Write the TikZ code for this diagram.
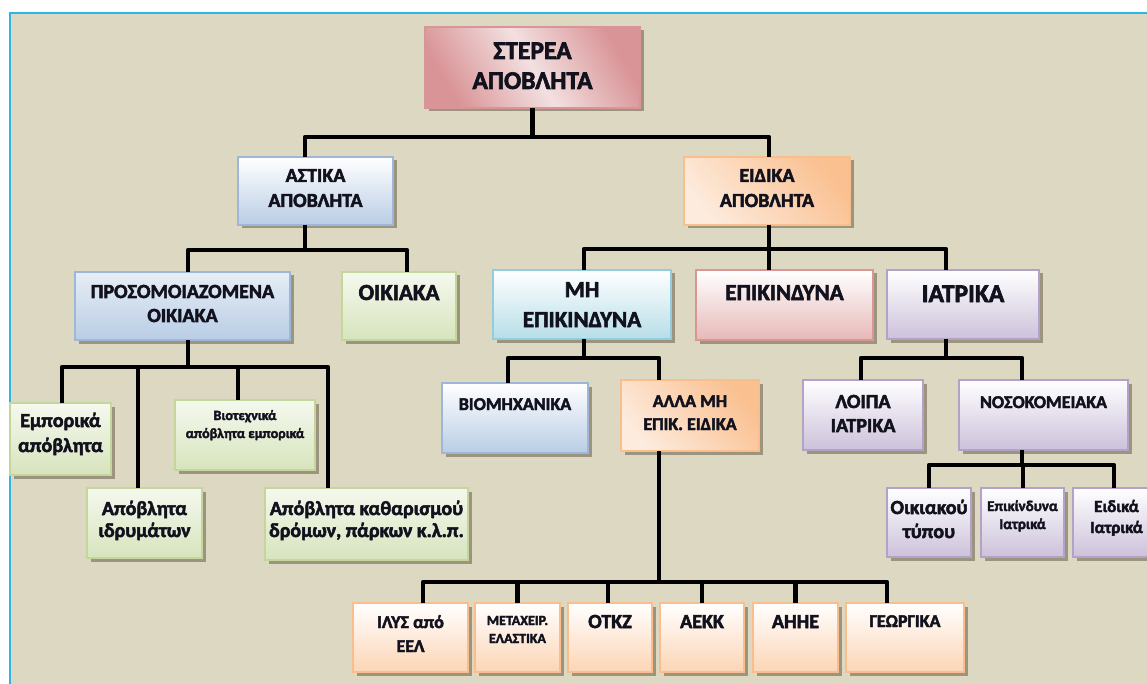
\documentclass[tikz,border=0pt]{standalone}
\usepackage{fontspec}
\setmainfont{Carlito}[BoldFont={Carlito Bold}, BoldFeatures={FakeBold=2.5}]
\usetikzlibrary{shadows}
\definecolor{panel}{HTML}{DDD8C2}
\definecolor{frameblue}{HTML}{2DB5E8}
\definecolor{shad}{HTML}{9C947E}
\definecolor{txt}{HTML}{12121E}
\definecolor{pinkD}{HTML}{D99497}
\definecolor{pinkL}{HTML}{F3E0E0}
\definecolor{blueB}{HTML}{B9CDE5}
\definecolor{blueE}{HTML}{9DB7D9}
\definecolor{greenB}{HTML}{D7E4BD}
\definecolor{greenE}{HTML}{C3D69B}
\definecolor{orD}{HTML}{FAC090}
\definecolor{orL}{HTML}{FDEBDD}
\definecolor{orB}{HTML}{FCD5B5}
\definecolor{orE}{HTML}{F9BE8C}
\definecolor{cyanB}{HTML}{B7DEE8}
\definecolor{cyanE}{HTML}{93CDDD}
\definecolor{redB}{HTML}{E6B9B8}
\definecolor{redE}{HTML}{D99694}
\definecolor{purB}{HTML}{CCC1DA}
\definecolor{purE}{HTML}{B3A2C7}
\newcommand\fsz[2]{\bfseries\fontsize{#1}{#2}\selectfont}
\newcommand\bx[8]{%
  \pgfmathsetlengthmacro\bxw{#4-#2}%
  \pgfmathsetlengthmacro\bxh{#5-#3}%
  \node[box, #6, minimum width=\bxw, minimum height=\bxh] (#1) at (#2,#3)
    {\parbox[t][\bxh][t]{\bxw}{\centering\rule{0pt}{#7pt}#8}};%
}
\tikzset{
  box/.style={rectangle, draw, line width=1.3pt, inner sep=0pt, outer sep=0pt,
    anchor=north west, text=txt,
    drop shadow={shadow xshift=3.5pt, shadow yshift=-3.5pt, fill=shad, opacity=1}},
  conn/.style={line width=4.3pt, draw=black, line join=round},
  pinkbox/.style={draw=pinkD, top color=pinkD, bottom color=pinkD, middle color=pinkL, shading angle=-60},
  bluebox/.style={draw=blueE, top color=white, bottom color=blueB},
  blue2box/.style={draw=blueE, top color=blueB!35, bottom color=blueB},
  greenbox/.style={draw=greenE, top color=greenB!25, bottom color=greenB},
  orbox/.style={draw=orE, top color=orD, bottom color=orL, shading angle=-50},
  or2box/.style={draw=orE, top color=white, bottom color=orB},
  cyanbox/.style={draw=cyanE, top color=white, bottom color=cyanB},
  redbox/.style={draw=redE, top color=white, bottom color=redB},
  purbox/.style={draw=purE, top color=white, bottom color=purB},
}
\begin{document}
\begin{tikzpicture}[x=1pt, y=-1pt]
\useasboundingbox (0,0) rectangle (1147,684);
\fill[white] (0,0) rectangle (1147,684);
\fill[panel] (10,13) rectangle (1147,684);
\draw[frameblue, line width=1.6pt] (10,684) -- (10,13) -- (1147,13);

% boxes
\bx{st}{425}{27}{640}{108}{pinkbox, font=\fsz{25.5}{30}}{32}{ΣΤΕΡΕΑ\\ΑΠΟΒΛΗΤΑ}
\bx{as}{238}{157}{393}{225}{bluebox, font=\fsz{20}{25}}{25}{ΑΣΤΙΚΑ\\ΑΠΟΒΛΗΤΑ}
\bx{ei}{684}{157}{850}{225}{orbox, font=\fsz{20}{25}}{25}{ΕΙΔΙΚΑ\\ΑΠΟΒΛΗΤΑ}
\bx{pr}{75}{272}{290}{340}{blue2box, font=\fsz{20}{24}}{26}{ΠΡΟΣΟΜΟΙΑΖΟΜΕΝΑ\\ΟΙΚΙΑΚΑ}
\bx{oi}{342}{272}{456}{340}{greenbox, font=\fsz{23}{28}}{28}{ΟΙΚΙΑΚΑ}
\bx{mh}{493}{270}{671}{339}{cyanbox, font=\fsz{23}{30}}{27}{ΜΗ\\ΕΠΙΚΙΝΔΥΝΑ}
\bx{ep}{696}{270}{873}{340}{redbox, font=\fsz{23}{30}}{30}{ΕΠΙΚΙΝΔΥΝΑ}
\bx{ia}{887}{270}{1039}{339}{purbox, font=\fsz{25.5}{30}}{32}{ΙΑΤΡΙΚΑ}
\bx{bi}{442}{383}{588}{453}{bluebox, font=\fsz{18}{23}}{27}{ΒΙΟΜΗΧΑΝΙΚΑ}
\bx{al}{621}{380}{759}{451}{orbox, font=\fsz{18}{23}}{27}{ΑΛΛΑ ΜΗ\\ΕΠΙΚ. ΕΙΔΙΚΑ}
\bx{lo}{803}{380}{923}{450}{purbox, font=\fsz{20}{24}}{28}{ΛΟΙΠΑ\\ΙΑΤΡΙΚΑ}
\bx{no}{959}{380}{1128}{450}{purbox, font=\fsz{18}{23}}{28}{ΝΟΣΟΚΟΜΕΙΑΚΑ}
\bx{em}{10}{403}{111}{475}{greenbox, font=\fsz{20}{25}}{24}{Εμπορικά\\απόβλητα}
\bx{vi}{175}{400}{315}{470}{greenbox, font=\fsz{14}{18}}{20}{Βιοτεχνικά\\απόβλητα εμπορικά}
\bx{id}{87}{488}{202}{558}{greenbox, font=\fsz{20}{22}}{27}{Απόβλητα\\ιδρυμάτων}
\bx{ka}{265}{488}{468}{560}{greenbox, font=\fsz{20}{22}}{27}{Απόβλητα καθαρισμού\\δρόμων, πάρκων κ.λ.π.}
\bx{ok}{887}{488}{971}{557}{purbox, font=\fsz{20}{24}}{26}{Οικιακού\\τύπου}
\bx{ej}{981}{488}{1064}{557}{purbox, font=\fsz{15}{18}}{23}{Επικίνδυνα\\Ιατρικά}
\bx{ed}{1073}{488}{1160}{557}{purbox, font=\fsz{17}{21}}{24}{Ειδικά\\Ιατρικά}
\bx{il}{353}{603}{468}{672}{or2box, font=\fsz{18}{24}}{25}{ΙΛΥΣ από\\ΕΕΛ}
\bx{me}{475}{603}{560}{672}{or2box, font=\fsz{14}{18}}{22}{ΜΕΤΑΧΕΙΡ.\\ΕΛΑΣΤΙΚΑ}
\bx{ot}{568}{603}{652}{672}{or2box, font=\fsz{20}{24}}{25}{ΟΤΚΖ}
\bx{ae}{660}{603}{744}{672}{or2box, font=\fsz{20}{24}}{25}{ΑΕΚΚ}
\bx{ah}{753}{603}{838}{672}{or2box, font=\fsz{20}{24}}{25}{ΑΗΗΕ}
\bx{ge}{846}{603}{964}{672}{or2box, font=\fsz{18}{24}}{24}{ΓΕΩΡΓΙΚΑ}

% junctions
\coordinate (jS) at (533,137);
\coordinate (jA) at (305,250);
\coordinate (jE) at (769,249);
\coordinate (jM) at (584,358);
\coordinate (jI) at (946,358);
\coordinate (jP) at (188,367);
\coordinate (jL) at (659,582);
\coordinate (jN) at (1022,465);

\draw[conn] (st.south) |- (jS) -| ([xshift=-10.5pt]as.north);
\draw[conn] (jS) -| ([xshift=2pt]ei.north);

\draw[conn] ([xshift=-10.5pt]as.south) |- (jA) -| ([xshift=5.5pt]pr.north);
\draw[conn] (jA) -| ([xshift=8pt]oi.north);

\draw[conn] ([xshift=2pt]ei.south) |- (jE) -| ([xshift=2pt]mh.north);
\draw[conn] (jE) -| ([xshift=-15.5pt]ep.north);
\draw[conn] (jE) -| ([xshift=-17pt]ia.north);

\draw[conn] ([xshift=2pt]mh.south) |- (jM) -| ([xshift=-7pt]bi.north);
\draw[conn] (jM) -| ([xshift=-31pt]al.north);

\draw[conn] ([xshift=-17pt]ia.south) |- (jI) -| ([xshift=-2pt]lo.north);
\draw[conn] (jI) -| ([xshift=-21.5pt]no.north);

\draw[conn] ([xshift=5.5pt]pr.south) |- (jP) -| ([xshift=1.5pt]em.north);
\draw[conn] (jP) -| ([xshift=-6.5pt]id.north);
\draw[conn] (jP) -| ([xshift=-7pt]vi.north);
\draw[conn] (jP) -| ([xshift=-38.5pt]ka.north);

\draw[conn] ([xshift=-31pt]al.south) |- (jL) -| ([xshift=12.5pt]il.north);
\draw[conn] (jL) -| (me.north);
\draw[conn] (jL) -| ([xshift=-2pt]ot.north);
\draw[conn] (jL) -| (ae.north);
\draw[conn] (jL) -| (ah.north);
\draw[conn] (jL) -| ([xshift=-18pt]ge.north);

\draw[conn] ([xshift=-21.5pt]no.south) |- (jN) -| (ok.north);
\draw[conn] (jN) -| ([xshift=0.5pt]ej.north);
\draw[conn] (jN) -| ([xshift=-2.5pt]ed.north);
\end{tikzpicture}
\end{document}
